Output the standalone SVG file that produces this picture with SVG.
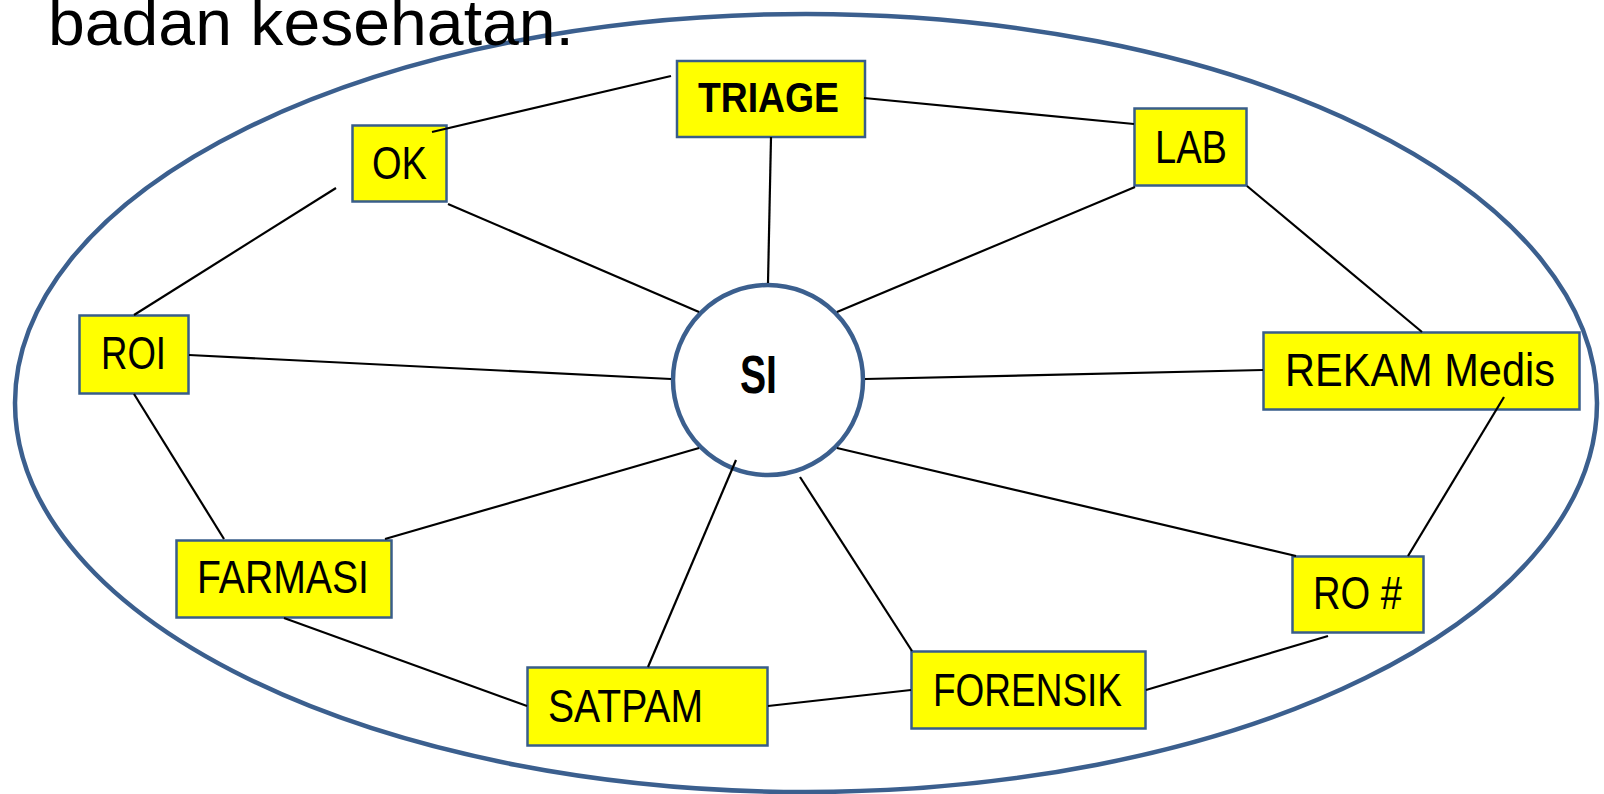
<svg xmlns="http://www.w3.org/2000/svg" width="1604" height="794" viewBox="0 0 1604 794">
<style>
.box{fill:#FFFF00;stroke:#385D8A;stroke-width:2.5}
.lbl{font-family:"Liberation Sans",Arial,sans-serif;font-size:46px;fill:#000}
.bold{font-weight:bold}
.conn line{stroke:#000;stroke-width:2.2}
</style>
<rect width="1604" height="794" fill="#fff"/>
<ellipse id="boundary" cx="806" cy="403" rx="791" ry="389" fill="none" stroke="#3B5F8E" stroke-width="4.5"/>
<text id="title" x="48" y="45" class="lbl" style="font-size:64px" textLength="526" lengthAdjust="spacingAndGlyphs">badan kesehatan.</text>
<g id="node-si">
<circle cx="768" cy="380" r="95" fill="#fff" stroke="#3B5F8E" stroke-width="4.5"/>
<text x="740" y="393" class="lbl bold" style="font-size:53px" textLength="37" lengthAdjust="spacingAndGlyphs">SI</text>
</g>
<g id="node-triage">
<rect class="box" x="677" y="61" width="188" height="76"/>
<text x="698" y="112" class="lbl bold" style="font-size:43px" textLength="141" lengthAdjust="spacingAndGlyphs">TRIAGE</text>
</g>
<g id="node-ok">
<rect class="box" x="352.5" y="125.5" width="94" height="76"/>
<text x="372" y="179" class="lbl" textLength="55" lengthAdjust="spacingAndGlyphs">OK</text>
</g>
<g id="node-lab">
<rect class="box" x="1134.5" y="108.5" width="112" height="77"/>
<text x="1155" y="163" class="lbl" textLength="72" lengthAdjust="spacingAndGlyphs">LAB</text>
</g>
<g id="node-roi">
<rect class="box" x="79.5" y="315.5" width="109" height="78"/>
<text x="101" y="369" class="lbl" textLength="65" lengthAdjust="spacingAndGlyphs">ROI</text>
</g>
<g id="node-rekam">
<rect class="box" x="1263.5" y="332.5" width="316" height="77"/>
<text x="1285" y="386" class="lbl" textLength="270" lengthAdjust="spacingAndGlyphs">REKAM Medis</text>
</g>
<g id="node-farmasi">
<rect class="box" x="176.5" y="540.5" width="215" height="77"/>
<text x="197" y="593" class="lbl" textLength="172" lengthAdjust="spacingAndGlyphs">FARMASI</text>
</g>
<g id="node-ro">
<rect class="box" x="1292.5" y="556.5" width="131" height="76"/>
<text x="1313" y="609" class="lbl" textLength="89" lengthAdjust="spacingAndGlyphs">RO #</text>
</g>
<g id="node-satpam">
<rect class="box" x="527.5" y="667.5" width="240" height="78"/>
<text x="548" y="722" class="lbl" textLength="155" lengthAdjust="spacingAndGlyphs">SATPAM</text>
</g>
<g id="node-forensik">
<rect class="box" x="911.5" y="651.5" width="234" height="77"/>
<text x="933" y="706" class="lbl" textLength="189" lengthAdjust="spacingAndGlyphs">FORENSIK</text>
</g>
<g id="connectors" class="conn">
<line x1="432" y1="132" x2="671" y2="76"/>
<line x1="336" y1="188" x2="134" y2="315"/>
<line x1="448" y1="204" x2="699" y2="312"/>
<line x1="771" y1="137" x2="768" y2="283"/>
<line x1="864" y1="98" x2="1134" y2="124"/>
<line x1="1135" y1="187" x2="837" y2="312"/>
<line x1="1247" y1="186" x2="1422" y2="332"/>
<line x1="865" y1="379" x2="1263" y2="370"/>
<line x1="1504" y1="397" x2="1408" y2="556"/>
<line x1="837" y1="448" x2="1296" y2="556"/>
<line x1="800" y1="477" x2="912" y2="651"/>
<line x1="736" y1="460" x2="648" y2="667"/>
<line x1="699" y1="448" x2="385" y2="539"/>
<line x1="671" y1="379" x2="189" y2="355"/>
<line x1="134" y1="394" x2="224" y2="539"/>
<line x1="284" y1="618" x2="527" y2="706"/>
<line x1="768" y1="706" x2="911" y2="690"/>
<line x1="1146" y1="690" x2="1328" y2="636"/>
</g>
</svg>
